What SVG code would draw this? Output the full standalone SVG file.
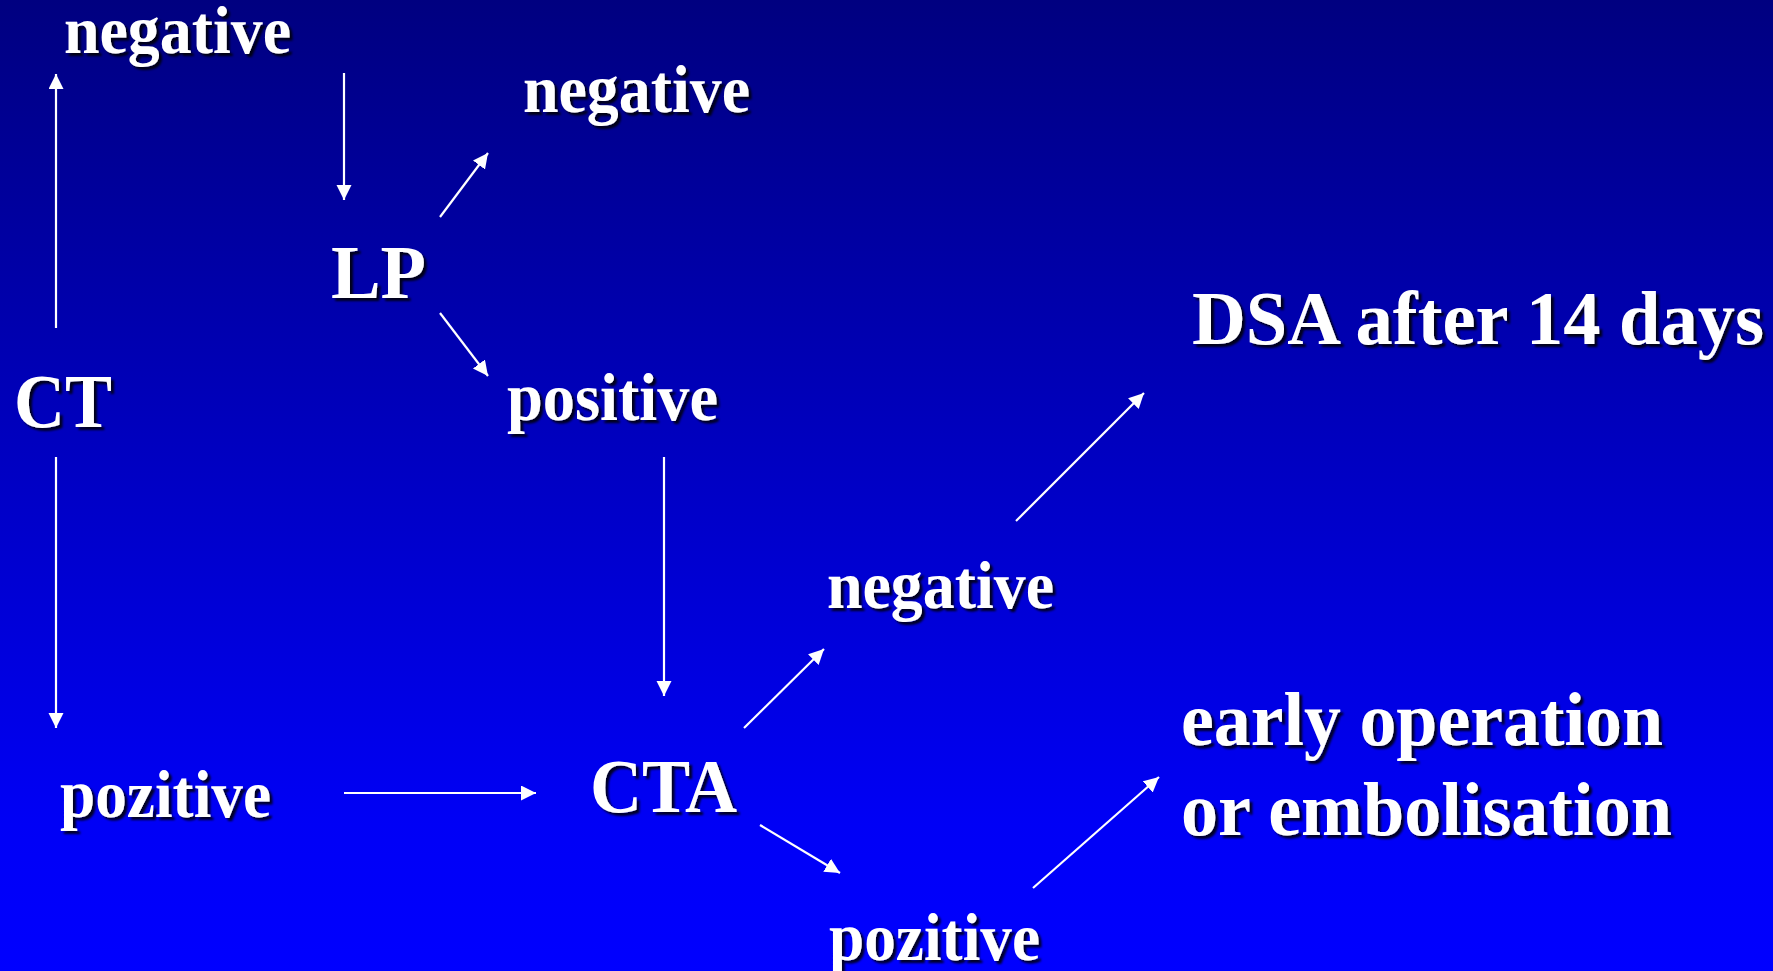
<svg xmlns="http://www.w3.org/2000/svg" width="1773" height="971" viewBox="0 0 1773 971">
  <defs>
    <linearGradient id="bg" x1="0" y1="0" x2="0" y2="1">
      <stop offset="0" stop-color="#000080"/>
      <stop offset="0.85" stop-color="#0000F6"/>
      <stop offset="1" stop-color="#0000FF"/>
    </linearGradient>
    <filter id="shadow" x="-10%" y="-20%" width="130%" height="150%">
      <feDropShadow dx="3" dy="3" stdDeviation="1.2" flood-color="#000000" flood-opacity="0.85"/>
    </filter>
    <marker id="arrow" markerUnits="userSpaceOnUse" markerWidth="16" markerHeight="16" refX="15" refY="7.5" orient="auto">
      <path d="M0,0 L15,7.5 L0,15 Z" fill="#FFFFFF"/>
    </marker>
  </defs>
  <style>
    .lbl { font-family: "Liberation Serif", "Times New Roman", serif; font-weight: bold; fill: #FFFFFF; filter: url(#shadow); }
    .sm { font-size: 68px; }
    .lg { font-size: 76px; }
    .conn line { stroke: #FFFFFF; stroke-width: 2.2; marker-end: url(#arrow); }
  </style>
  <rect x="0" y="0" width="1773" height="971" fill="url(#bg)"/>

  <g id="connectors" class="conn">
    <line x1="56" y1="328" x2="56" y2="74"/>
    <line x1="344" y1="73" x2="344" y2="200"/>
    <line x1="440" y1="217" x2="488" y2="153"/>
    <line x1="440" y1="313" x2="488" y2="376"/>
    <line x1="56" y1="457" x2="56" y2="728"/>
    <line x1="344" y1="793" x2="536" y2="793"/>
    <line x1="664" y1="457" x2="664" y2="696"/>
    <line x1="744" y1="728" x2="824" y2="649"/>
    <line x1="1016" y1="521" x2="1144" y2="393"/>
    <line x1="760" y1="825" x2="840" y2="873"/>
    <line x1="1033" y1="888" x2="1159" y2="777"/>
  </g>

  <g id="node-ct">
    <text class="lbl lg" x="14" y="427" textLength="98" lengthAdjust="spacingAndGlyphs">CT</text>
  </g>
  <g id="node-ct-negative">
    <text class="lbl sm" x="64" y="53" textLength="227" lengthAdjust="spacingAndGlyphs">negative</text>
  </g>
  <g id="node-lp">
    <text class="lbl lg" x="331" y="298" textLength="95" lengthAdjust="spacingAndGlyphs">LP</text>
  </g>
  <g id="node-lp-negative">
    <text class="lbl sm" x="523" y="112" textLength="227" lengthAdjust="spacingAndGlyphs">negative</text>
  </g>
  <g id="node-lp-positive">
    <text class="lbl sm" x="507" y="420" textLength="211" lengthAdjust="spacingAndGlyphs">positive</text>
  </g>
  <g id="node-ct-pozitive">
    <text class="lbl sm" x="60" y="817" textLength="211" lengthAdjust="spacingAndGlyphs">pozitive</text>
  </g>
  <g id="node-cta">
    <text class="lbl lg" x="590" y="812" textLength="147" lengthAdjust="spacingAndGlyphs">CTA</text>
  </g>
  <g id="node-cta-negative">
    <text class="lbl sm" x="827" y="608" textLength="227" lengthAdjust="spacingAndGlyphs">negative</text>
  </g>
  <g id="node-cta-pozitive">
    <text class="lbl sm" x="829" y="960" textLength="211" lengthAdjust="spacingAndGlyphs">pozitive</text>
  </g>
  <g id="node-dsa">
    <text class="lbl lg" x="1192" y="344" textLength="572" lengthAdjust="spacingAndGlyphs">DSA after 14 days</text>
  </g>
  <g id="node-operation">
    <text class="lbl lg" x="1181" y="745" textLength="482" lengthAdjust="spacingAndGlyphs">early operation</text>
    <text class="lbl lg" x="1181" y="835" textLength="491" lengthAdjust="spacingAndGlyphs">or embolisation</text>
  </g>
</svg>
